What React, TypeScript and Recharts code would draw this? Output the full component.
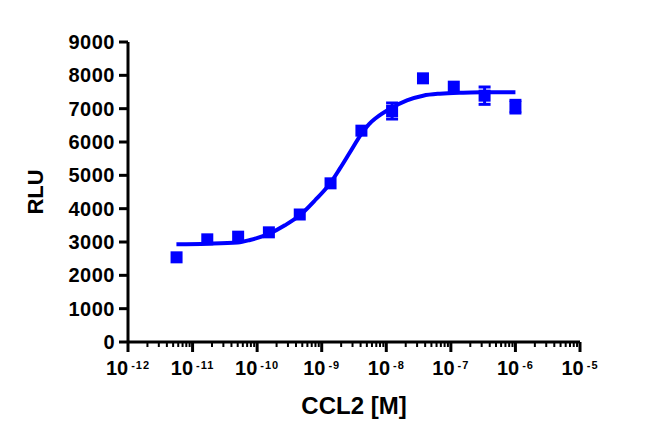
import { ComposedChart, Scatter, Line, XAxis, YAxis, ErrorBar } from 'recharts';

const BLUE = '#0000ff';
const FONT = '"Liberation Sans", Arial, Helvetica, sans-serif';

// measured points (molar CCL2, RLU mean, error)
const doses = [5.65e-12, 1.69e-11, 5.08e-11, 1.52e-10, 4.57e-10, 1.37e-9, 4.12e-9, 1.23e-8, 3.7e-8, 1.11e-7, 3.33e-7, 1e-6];
const rlu = [2540, 3080, 3160, 3290, 3825, 4760, 6340, 6930, 7910, 7660, 7390, 7060];
const rluErr = [0, 0, 0, 0, 0, 0, 0, 240, 0, 0, 260, 190];

// fitted curve (log10 dose, RLU)
const fitLogDose = [-11.25, -10.78, -10.3, -10.11, -9.8, -9.57, -9.34, -9.1, -8.87, -8.72, -8.56, -8.38, -8.27, -8.16, -7.94, -7.68, -7.43, -7.17, -6.81, -6.48, -6.0];
const fitRlu = [2935, 2950, 2985, 3060, 3260, 3500, 3800, 4260, 4760, 5200, 5700, 6260, 6530, 6720, 7000, 7250, 7390, 7450, 7480, 7490, 7495];

const decades = [-12, -11, -10, -9, -8, -7, -6, -5];
const minorSteps = [2, 3, 4, 5, 6, 7, 8, 9];
const yTicks = [0, 1000, 2000, 3000, 4000, 5000, 6000, 7000, 8000, 9000];

const points = doses.map((d, i) => ({ x: d, y: rlu[i], err: rluErr[i] }));
const curve = fitLogDose.map((l, i) => ({ x: Math.pow(10, l), y: fitRlu[i] }));

const xTicks: number[] = [];
decades.forEach((d, i) => {
  xTicks.push(Math.pow(10, d));
  if (i < decades.length - 1) minorSteps.forEach((m) => xTicks.push(m * Math.pow(10, d)));
});

const Square = ({ cx, cy }: any) => {
  if (cx == null || cy == null) return null;
  return <rect x={cx - 6} y={cy - 6} width={12} height={12} fill={BLUE} />;
};

const DoseTick = ({ x, y, payload }: any) => {
  const v = payload?.value ?? 1;
  const lg = Math.log10(v);
  const e = Math.round(lg);
  const major = Math.abs(lg - e) < 1e-6;
  if (!major) {
    return <line x1={x} y1={y} x2={x} y2={y + 5} stroke="#000" strokeWidth={2} />;
  }
  return (
    <g>
      <line x1={x} y1={y} x2={x} y2={y + 10} stroke="#000" strokeWidth={3} />
      <text x={x} y={y + 33} textAnchor="middle" fill="#000" style={{ fontFamily: FONT, fontWeight: 'bold', fontSize: 20 }}>
        <tspan style={{ fontSize: 20 }}>10</tspan>
        <tspan style={{ fontSize: 11, letterSpacing: 1 }} dx={3} dy={-6}>{String(e)}</tspan>
      </text>
    </g>
  );
};

const XTitle = ({ viewBox }: any) => {
  const vb = viewBox ?? { x: 128, y: 342, width: 452, height: 97 };
  return (
    <text x={vb.x + vb.width / 2} y={vb.y + 72} textAnchor="middle" fill="#000" style={{ fontFamily: FONT, fontWeight: 'bold', fontSize: 24 }}>
      CCL2 [M]
    </text>
  );
};

const YTitle = ({ viewBox }: any) => {
  const vb = viewBox ?? { x: 0, y: 42, width: 128, height: 300 };
  const cy = vb.y + vb.height / 2;
  return (
    <text x={43} y={cy} transform={`rotate(-90 43 ${cy})`} textAnchor="middle" fill="#000" style={{ fontFamily: FONT, fontWeight: 'bold', fontSize: 22 }}>
      RLU
    </text>
  );
};

export default function App() {
  return (
    <div style={{ position: 'absolute', left: 0, top: 0, width: 650, height: 439, background: '#fff' }}>
      <ComposedChart width={650} height={439} margin={{ top: 42, right: 70, bottom: 0, left: 0 }} style={{ fontFamily: FONT }}>
        <XAxis
          dataKey="x"
          type="number"
          scale="log"
          domain={[1e-12, 1e-5]}
          ticks={xTicks}
          interval={0}
          allowDataOverflow
          height={97}
          tickSize={0}
          tickMargin={0}
          tickLine={false}
          axisLine={{ stroke: '#000', strokeWidth: 3 }}
          tick={<DoseTick />}
          label={{ content: (p: any) => <XTitle {...p} /> }}
        />
        <YAxis
          type="number"
          domain={[0, 9000]}
          ticks={yTicks}
          interval={0}
          width={128}
          tickSize={9}
          tickMargin={4}
          tickLine={{ stroke: '#000', strokeWidth: 3 }}
          axisLine={{ stroke: '#000', strokeWidth: 3 }}
          tick={{ fill: '#000', fontSize: 20, fontWeight: 'bold', fontFamily: FONT, letterSpacing: 0.5 }}
          label={{ content: (p: any) => <YTitle {...p} /> }}
        />
        <Line data={curve} dataKey="y" type="monotone" stroke={BLUE} strokeWidth={4} dot={false} activeDot={false} isAnimationActive={false} />
        <Scatter data={points} dataKey="y" fill={BLUE} shape={<Square />} isAnimationActive={false}>
          <ErrorBar dataKey="err" direction="y" width={6} stroke={BLUE} strokeWidth={3} isAnimationActive={false} />
        </Scatter>
      </ComposedChart>
    </div>
  );
}
